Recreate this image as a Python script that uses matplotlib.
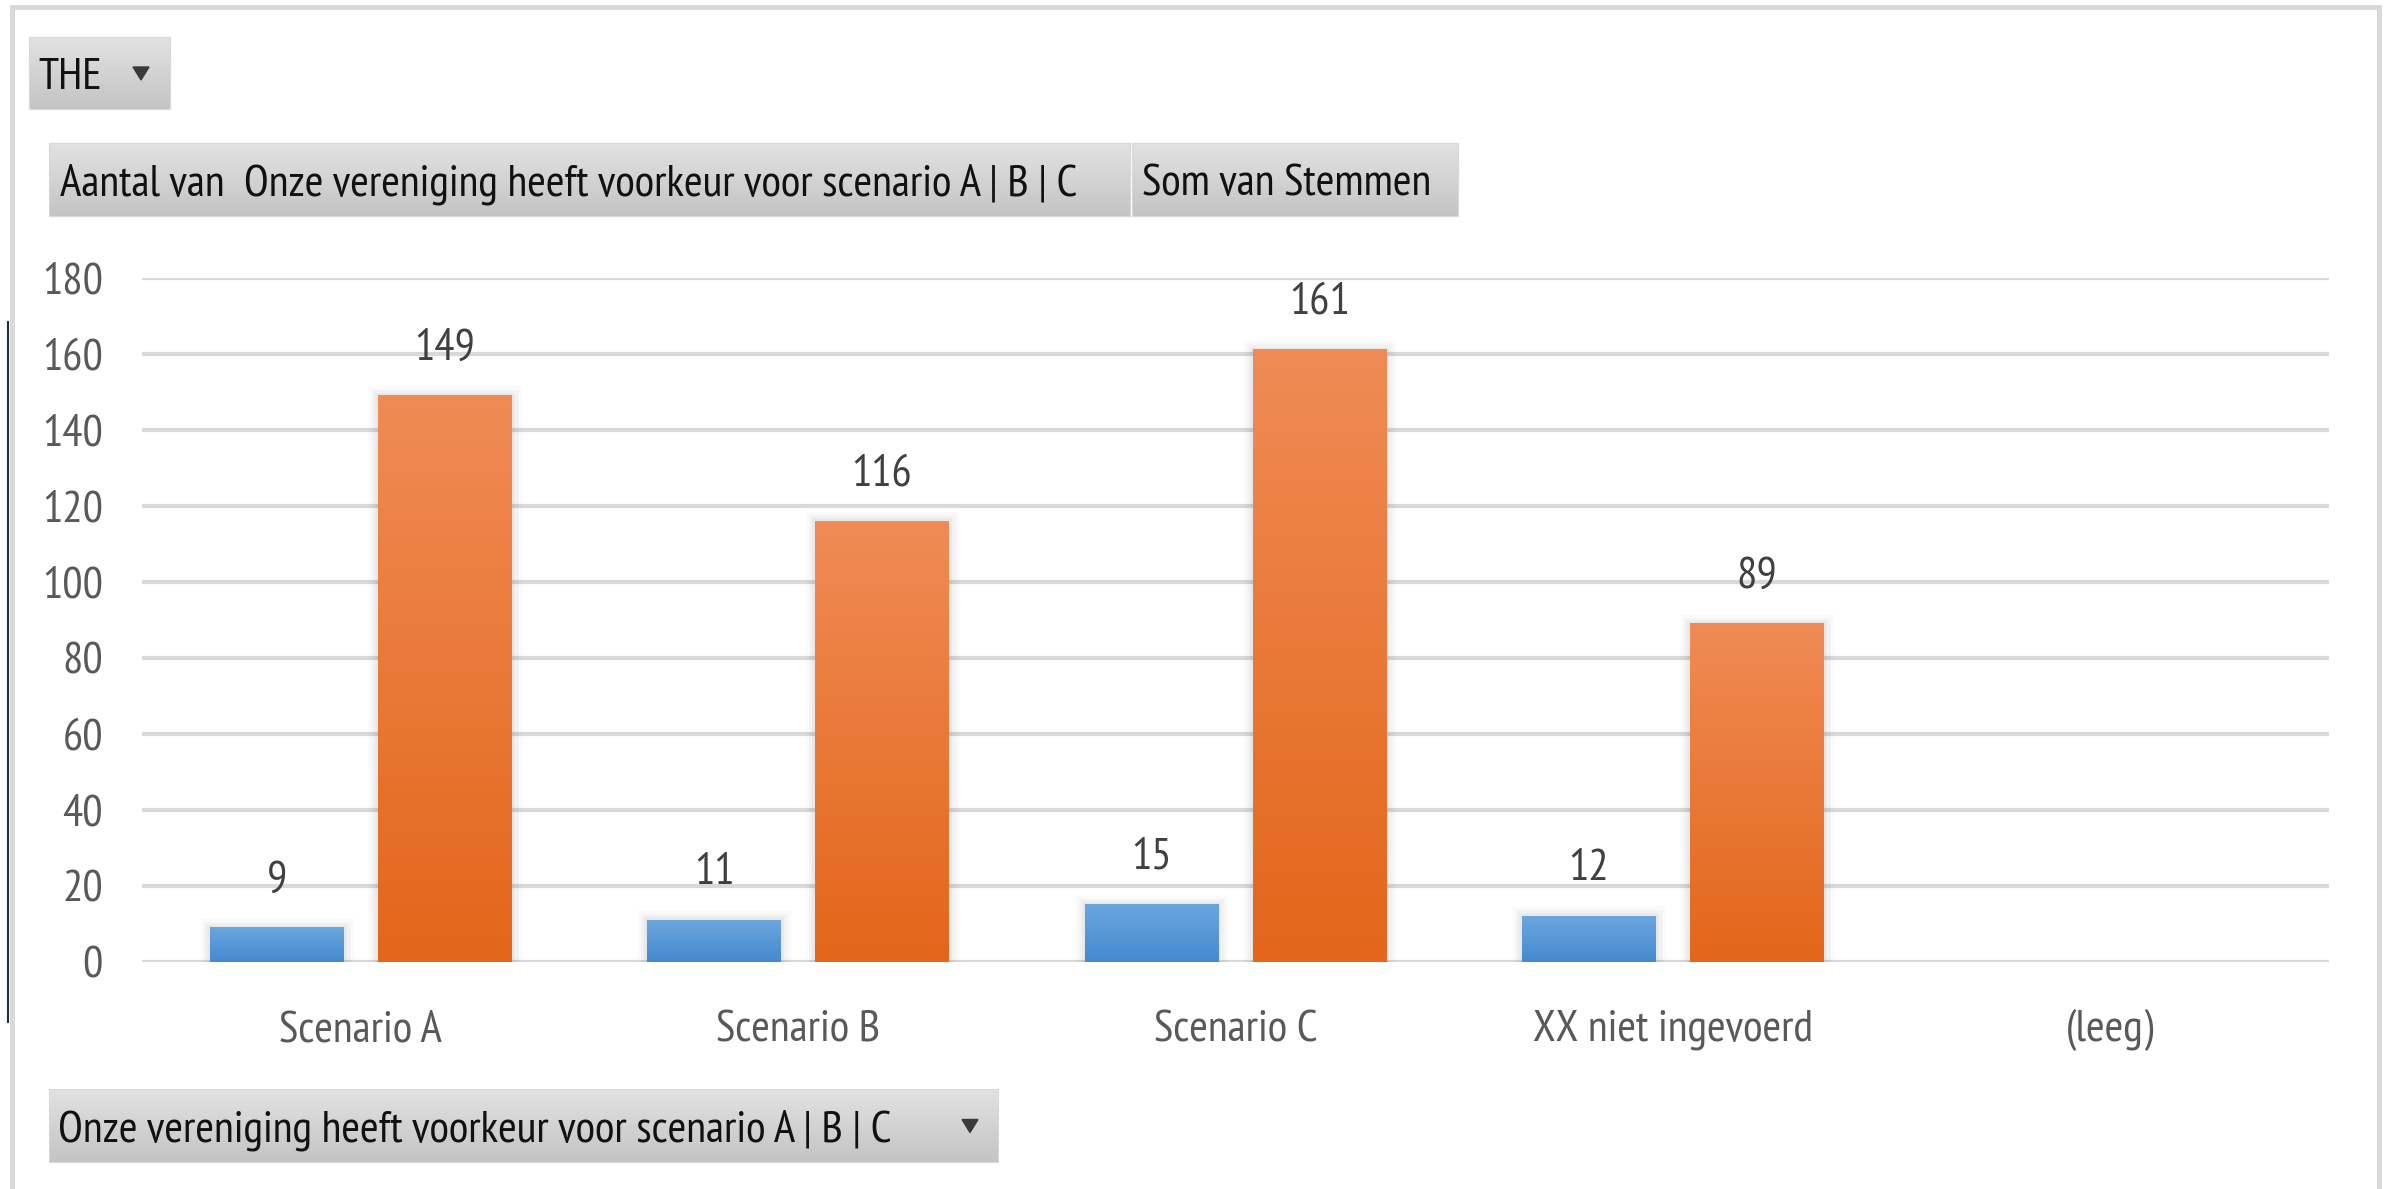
import numpy as np
import matplotlib
matplotlib.use("Agg")
import matplotlib.pyplot as plt
import matplotlib.patheffects as pe
from matplotlib.colors import LinearSegmentedColormap
from matplotlib.patches import Rectangle, Polygon

# pivot chart data
categories = ["Scenario A", "Scenario B", "Scenario C", "XX niet ingevoerd", "(leeg)"]
aantal = [9, 11, 15, 12, np.nan]        # Aantal van Onze vereniging ...
stemmen = [149, 116, 161, 89, np.nan]   # Som van Stemmen
yticks = [0, 20, 40, 60, 80, 100, 120, 140, 160, 180]

W, H = 2394, 1189
FS = 32.5
plt.rcParams["font.family"] = ["PT Sans Narrow", "DejaVu Sans"]
fig = plt.figure(figsize=(W / 100, H / 100), dpi=100)
fig.patch.set_facecolor("white")

# background layer in pixel coordinates: frame and pivot field buttons
bg = fig.add_axes([0, 0, 1, 1])
bg.axis("off")
btn_cmap = LinearSegmentedColormap.from_list("btn", ["#e2e2e2", "#c4c4c4"])
grad = np.linspace(0, 1, 128).reshape(-1, 1)


def button(x0, x1, y0, y1, label, tx, arrow=None):
    bg.imshow(grad, cmap=btn_cmap, extent=(x0, x1, y1, y0), aspect="auto",
              interpolation="bilinear", zorder=2)
    bg.add_patch(Rectangle((x0, y0), x1 - x0, y1 - y0, fill=False,
                           edgecolor="#d8d8d8", lw=0.8, zorder=3))
    base = (y0 + y1) / 2 + 16
    bg.text(tx, base, label, fontsize=FS, color="#111111", va="baseline",
            ha="left", zorder=4)
    if arrow is not None:
        cx, cy = arrow, (y0 + y1) / 2
        bg.add_patch(Polygon([[cx - 8, cy - 6], [cx + 8, cy - 6], [cx, cy + 7]],
                             closed=True, color="#3a3a3a", zorder=4))


button(29, 170, 37, 109, "THE", 38, arrow=141)
button(49, 1130, 143, 216, "Aantal van  Onze vereniging heeft voorkeur voor scenario A | B | C", 60)
button(1132, 1458, 143, 216, "Som van Stemmen", 1142)
button(49, 998, 1089, 1162, "Onze vereniging heeft voorkeur voor scenario A | B | C", 58, arrow=970)

# outer frame of the chart object
bg.plot([12, 12, 2379, 2379], [H + 10, 6.5, 6.5, H + 10], color="#d9d9d9", lw=3.6,
        solid_joinstyle="miter", zorder=1)
bg.plot([8, 8], [322, 1022], color="#1d2f3f", lw=1.5, zorder=1)
bg.set_xlim(0, W)
bg.set_ylim(H, 0)

# chart area
ax = fig.add_axes([142 / W, 1 - 962 / H, (2329 - 142) / W, (962 - 277.7) / H])
ax.set_facecolor("none")
ax.set_xlim(-0.5, len(categories) - 0.5)
ax.set_ylim(0, 180)
ax.set_yticks(yticks)
ax.yaxis.grid(True, color="#d9d9d9", lw=3)
ax.set_axisbelow(True)
for s in ax.spines.values():
    s.set_visible(False)
ax.tick_params(axis="y", length=0, pad=28, labelsize=FS, labelcolor="#595959")
ax.set_xticks([])

x = np.arange(len(categories))
off, bw = 0.192, 0.306
series = [
    (aantal, -off, ["#6ba6de", "#4689cf"]),
    (stemmen, off, ["#f08b55", "#e3661a"]),
]
shadow = [pe.Stroke(linewidth=14, foreground="black", alpha=0.02),
          pe.Stroke(linewidth=9, foreground="black", alpha=0.03),
          pe.Stroke(linewidth=4, foreground="black", alpha=0.04)]

for vals, dx, cols in series:
    cmap = LinearSegmentedColormap.from_list("g", cols)
    heights = np.nan_to_num(np.array(vals, dtype=float))
    bars = ax.bar(x + dx, heights, bw, color="none", zorder=2)
    for b, v in zip(bars, vals):
        if np.isnan(v):
            b.set_visible(False)
            continue
        b.set_path_effects(shadow)
        x0, w, h = b.get_x(), b.get_width(), b.get_height()
        ax.imshow(grad, cmap=cmap, extent=(x0, x0 + w, 0, h), aspect="auto",
                  interpolation="bilinear", zorder=3)
        ax.annotate(f"{v:g}", (x0 + w / 2, h), xytext=(0, 36),
                    textcoords="offset pixels", ha="center", va="baseline",
                    fontsize=FS, color="#404040", zorder=4)

for i, c in enumerate(categories):
    ax.annotate(c, (i, 0), xycoords=("data", "axes fraction"), xytext=(0, -79),
                textcoords="offset pixels", ha="center", va="baseline",
                fontsize=FS, color="#595959")

ax.set_xlim(-0.5, len(categories) - 0.5)
ax.set_ylim(0, 180)

fig.savefig("out.png", dpi=100, facecolor="white")
